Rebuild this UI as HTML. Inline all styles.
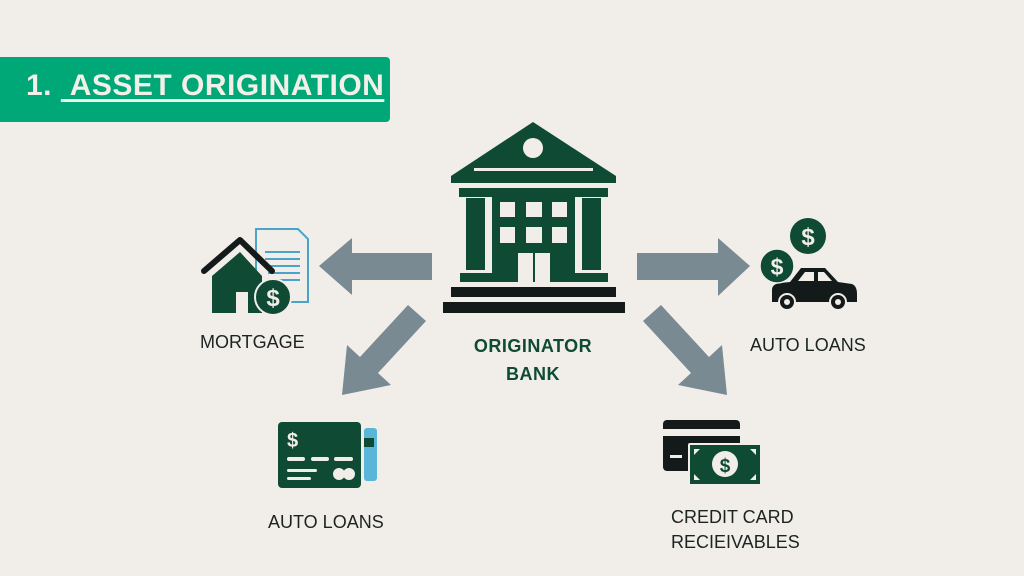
<!DOCTYPE html>
<html><head><meta charset="utf-8"><style>
html,body{margin:0;padding:0;background:#f1eeea;}
body{width:1024px;height:576px;position:relative;overflow:hidden;font-family:"Liberation Sans","DejaVu Sans",sans-serif;}
.banner{position:absolute;left:0;top:57px;width:390px;height:65px;background:#00a878;border-radius:0 4px 4px 0;}
.banner span{position:absolute;left:26px;top:12px;font-size:30px;font-weight:bold;color:#f3efe9;letter-spacing:0.5px;}
.banner u{text-decoration:underline;text-decoration-thickness:3px;text-underline-offset:4px;}
.lbl{position:absolute;font-size:18px;color:#1c2422;white-space:nowrap;line-height:25px;}
</style></head><body>
<div class="banner"><span>1. <u>&nbsp;ASSET ORIGINATION</u></span></div>
<svg width="1024" height="576" style="position:absolute;left:0;top:0">
<!-- bank -->
<g fill="#0f4a35">
<polygon points="533,122 451,176 451,183 616,183 616,176"/>
<rect x="459" y="188" width="33" height="9"/><rect x="575" y="188" width="33" height="9"/>
<rect x="466" y="198" width="19" height="72"/><rect x="582" y="198" width="19" height="72"/>
<rect x="492" y="188" width="83" height="94"/>
<rect x="460" y="273" width="32" height="9"/><rect x="575" y="273" width="33" height="9"/>
</g>
<circle cx="533" cy="148" r="10" fill="#f1eeea"/>
<rect x="474" y="168" width="119" height="3" fill="#f1eeea"/>
<g fill="#f1eeea">
<rect x="500" y="202" width="15" height="15"/><rect x="526" y="202" width="16" height="15"/><rect x="552" y="202" width="15" height="15"/>
<rect x="500" y="227" width="15" height="16"/><rect x="526" y="227" width="16" height="16"/><rect x="552" y="227" width="15" height="16"/>
<rect x="518" y="253" width="32" height="29"/>
</g>
<rect x="533" y="253" width="2" height="29" fill="#0f4a35"/>
<rect x="451" y="287" width="165" height="10" fill="#141a1a"/>
<rect x="443" y="302" width="182" height="11" fill="#141a1a"/>
<!-- arrows -->
<g fill="#7a8a92">
<polygon points="432,253 352,253 352,238 319,266 352,295 352,280 432,280"/>
<polygon points="637,253 718,253 718,238 750,266 718,296 718,280 637,280"/>
<polygon points="408,305 360,357 347,345 342,395 391,385 378,373 426,321"/>
<polygon points="661,305 709,357 722,345 727,395 678,385 691,373 643,321"/>
</g>
<!-- mortgage icon -->
<path d="M256,229 H298 L308,239 V302 H256 Z" fill="#f1eeea" stroke="#4aa3c8" stroke-width="2"/>
<g stroke="#4aa3c8" stroke-width="2"><line x1="265" y1="252" x2="300" y2="252"/><line x1="265" y1="259" x2="300" y2="259"/><line x1="265" y1="266" x2="300" y2="266"/><line x1="268" y1="273" x2="300" y2="273"/><line x1="270" y1="280" x2="300" y2="280"/></g>
<polygon points="240,252 212,276 212,313 236,313 236,292 248,292 248,313 262,313 262,276" fill="#0f4a35"/>
<polyline points="204,271 240,240 272,271" fill="none" stroke="#141a1a" stroke-width="6" stroke-linecap="round" stroke-linejoin="round"/>
<circle cx="273" cy="297" r="18" fill="#0f4a35" stroke="#f1eeea" stroke-width="2"/>
<text x="273" y="306" font-size="24" font-weight="bold" fill="#f1eeea" text-anchor="middle" font-family="Liberation Sans">$</text>
<!-- car icon -->
<path d="M772,302 V290 Q772,284 780,283 L790,282 L801,268 H825 L838,282 L852,284 Q857,286 857,294 V302 Z" fill="#141a1a"/>
<polygon points="805,272 814,272 814,281 798,281" fill="#f1eeea"/>
<polygon points="818,272 824,272 832,281 818,281" fill="#f1eeea"/>
<circle cx="787" cy="302" r="8" fill="#141a1a" stroke="#f1eeea" stroke-width="2"/><circle cx="787" cy="302" r="3" fill="#f1eeea"/>
<circle cx="838" cy="302" r="8" fill="#141a1a" stroke="#f1eeea" stroke-width="2"/><circle cx="838" cy="302" r="3" fill="#f1eeea"/>
<circle cx="808" cy="236" r="18" fill="#0f4a35"/>
<text x="808" y="245" font-size="24" font-weight="bold" fill="#f1eeea" text-anchor="middle" font-family="Liberation Sans">$</text>
<circle cx="777" cy="266" r="17" fill="#0f4a35" stroke="#f1eeea" stroke-width="1.5"/>
<text x="777" y="275" font-size="23" font-weight="bold" fill="#f1eeea" text-anchor="middle" font-family="Liberation Sans">$</text>
<!-- card icon left -->
<rect x="364" y="428" width="13" height="53" rx="3" fill="#5ab6d8"/>
<rect x="364" y="438" width="10" height="9" fill="#0f4a35"/>
<rect x="278" y="422" width="83" height="66" rx="4" fill="#0f4a35"/>
<text x="287" y="447" font-size="20" font-weight="bold" fill="#f1eeea" font-family="Liberation Sans">$</text>
<g fill="#f1eeea"><rect x="287" y="457" width="18" height="4" rx="2"/><rect x="311" y="457" width="18" height="4" rx="2"/><rect x="334" y="457" width="19" height="4" rx="2"/>
<rect x="287" y="469" width="30" height="3" rx="1.5"/><rect x="287" y="477" width="24" height="3" rx="1.5"/>
<circle cx="339" cy="474" r="6"/><circle cx="349" cy="474" r="6"/></g>
<!-- credit card right -->
<rect x="663" y="420" width="77" height="51" rx="4" fill="#141a1a"/>
<rect x="663" y="429" width="77" height="7" fill="#f1eeea"/>
<rect x="670" y="455" width="12" height="3" fill="#f1eeea"/>
<rect x="688" y="443" width="73" height="42" rx="2" fill="#f1eeea"/>
<rect x="690" y="445" width="70" height="39" fill="#0f4a35"/>
<g fill="#f1eeea"><polygon points="694,449 700,449 694,455"/><polygon points="756,449 750,449 756,455"/><polygon points="694,480 700,480 694,474"/><polygon points="756,480 750,480 756,474"/></g>
<circle cx="725" cy="464" r="13" fill="#f1eeea"/>
<text x="725" y="472" font-size="19" font-weight="bold" fill="#0f4a35" text-anchor="middle" font-family="Liberation Sans">$</text>
</svg>
<div class="lbl" style="left:200px;top:330px;">MORTGAGE</div>
<div class="lbl" style="left:470px;top:332px;width:126px;text-align:center;font-weight:bold;color:#0f4a35;font-size:18px;line-height:28px;letter-spacing:0.5px;">ORIGINATOR<br>BANK</div>
<div class="lbl" style="left:750px;top:333px;">AUTO LOANS</div>
<div class="lbl" style="left:268px;top:510px;">AUTO LOANS</div>
<div class="lbl" style="left:671px;top:505px;">CREDIT CARD<br>RECIEIVABLES</div>
</body></html>
